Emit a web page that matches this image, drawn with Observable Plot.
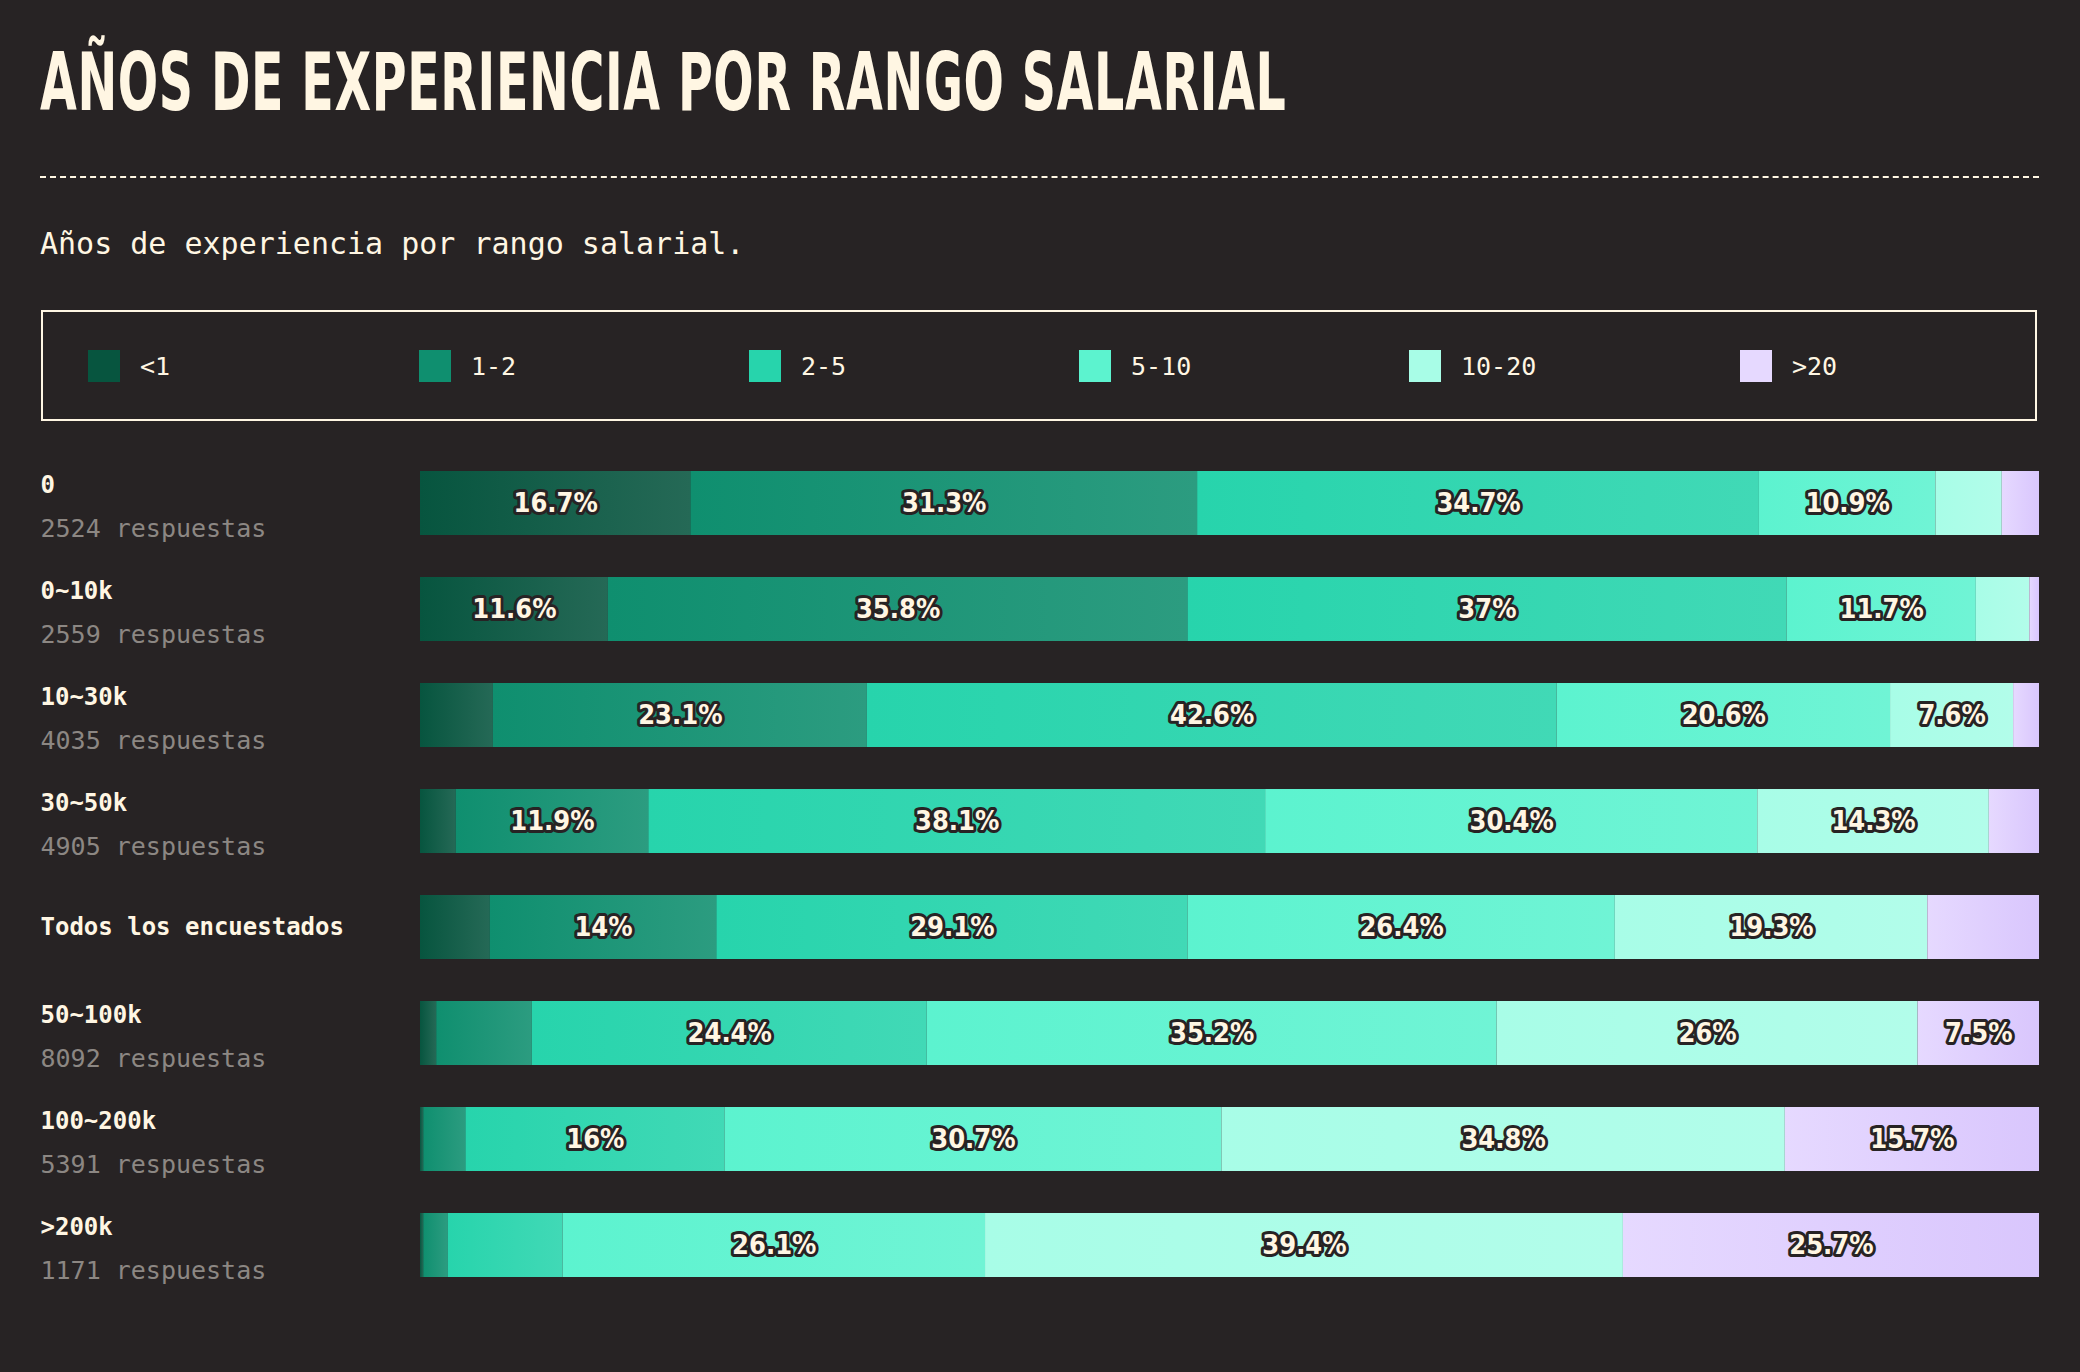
<!DOCTYPE html>
<html>
<head>
<meta charset="utf-8">
<script src="https://cdn.jsdelivr.net/npm/d3@7"></script>
<script src="https://cdn.jsdelivr.net/npm/@observablehq/plot@0.6"></script>
<style>
  body { margin: 0; background: #272324; color: #fff6e3; width: 2080px; height: 1372px; overflow: hidden; }
  #title { position: absolute; left: 40px; top: 36px; font-family: "DejaVu Sans Condensed", sans-serif; font-weight: bold; font-size: 80px; letter-spacing: 1px; transform: scaleX(0.66); transform-origin: left; white-space: nowrap; }
  #rule { position: absolute; left: 40px; top: 176px; width: 1999px; border-top: 2px dashed #fff6e3; }
  #sub { position: absolute; left: 40px; top: 226px; font-family: "DejaVu Sans Mono", monospace; font-size: 30px; }
  #legend { position: absolute; left: 41px; top: 310px; width: 1996px; height: 111px; border: 2px solid #fff6e3; box-sizing: border-box; }
  .item { position: absolute; top: 38px; font-family: "DejaVu Sans Mono", monospace; font-size: 25px; display: flex; align-items: center; }
  .sw { width: 32px; height: 32px; margin-right: 20px; }
  #chart { position: absolute; left: 0; top: 440px; }
</style>
</head>
<body>
<div id="title">AÑOS DE EXPERIENCIA POR RANGO SALARIAL</div>
<div id="rule"></div>
<div id="sub">Años de experiencia por rango salarial.</div>
<div id="legend"></div>
<div id="chart"></div>
<script>
const rows = ["0", "0~10k", "10~30k", "30~50k", "Todos los encuestados", "50~100k", "100~200k", ">200k"];
const responses = ["2524", "2559", "4035", "4905", "", "8092", "5391", "1171"];
const cats = ["<1", "1-2", "2-5", "5-10", "10-20", ">20"];
const colors = ["#07553f", "#0f8f6f", "#27d4ac", "#5cf3cf", "#a8fde7", "#e6d9ff"];
const values = [
  [16.7, 31.3, 34.7, 10.9, 4.1, 2.3],
  [11.6, 35.8, 37, 11.7, 3.3, 0.6],
  [4.5, 23.1, 42.6, 20.6, 7.6, 1.6],
  [2.2, 11.9, 38.1, 30.4, 14.3, 3.1],
  [4.3, 14, 29.1, 26.4, 19.3, 6.9],
  [1.0, 5.9, 24.4, 35.2, 26, 7.5],
  [0.2, 2.6, 16, 30.7, 34.8, 15.7],
  [0.2, 1.5, 7.1, 26.1, 39.4, 25.7]
];

const data = [];
rows.forEach((r, i) => cats.forEach((c, j) => data.push({row: r, cat: c, value: values[i][j]})));

// legend
const lx = [45, 376, 706, 1036, 1366, 1697];
const legend = d3.select("#legend");
cats.forEach((c, j) => {
  const it = legend.append("div").attr("class", "item").style("left", lx[j] + "px");
  it.append("div").attr("class", "sw").style("background", colors[j]);
  it.append("span").text(c);
});

const rowInfo = rows.map((r, i) => ({row: r, resp: responses[i]}));
const withResp = rowInfo.filter(d => d.resp);
const noResp = rowInfo.filter(d => !d.resp);

const labelStyle = {fill: "#fff6e3", fontFamily: "DejaVu Sans Mono", fontWeight: "bold", fontSize: 24,
  frameAnchor: "left", textAnchor: "start", dx: -380};

const chart = Plot.plot({
  width: 2080,
  height: 878,
  marginLeft: 420,
  marginRight: 41,
  marginTop: 10,
  marginBottom: 20,
  x: {domain: [0, 100], axis: null},
  y: {domain: rows, axis: null, paddingInner: 0.4, paddingOuter: 0.2},
  color: {domain: cats, range: colors},
  style: {background: "transparent", overflow: "visible"},
  marks: [
    Plot.barX(data, Plot.stackX({x: "value", y: "row", fill: "cat"})),
    Plot.text(data, Plot.stackX({
      x: "value", y: "row",
      text: d => d.value >= 7.5 ? `${d.value}%` : "",
      fill: "#fff6e3", stroke: "#272324", strokeWidth: 6, paintOrder: "stroke",
      fontFamily: "DejaVu Sans Condensed", fontWeight: "bold", fontSize: 27
    })),
    Plot.text(withResp, {y: "row", text: "row", dy: -18, ...labelStyle}),
    Plot.text(noResp, {y: "row", text: "row", ...labelStyle}),
    Plot.text(withResp, {
      y: "row", text: d => `${d.resp} respuestas`, frameAnchor: "left", textAnchor: "start", dx: -380, dy: 25,
      fill: "#8c8783", fontFamily: "DejaVu Sans Mono", fontSize: 25
    })
  ]
});

// soft left-to-right gradient on each segment
const svg = d3.select(chart);
const defs = svg.insert("defs", ":first-child");
colors.forEach((c, j) => {
  const g = defs.append("linearGradient").attr("id", "g" + j).attr("x1", 0).attr("x2", 1).attr("y1", 0).attr("y2", 0);
  const right = j === 5 ? "#d9c6fd" : d3.interpolateRgb(c, "#ffffff")(0.12);
  g.append("stop").attr("offset", 0).attr("stop-color", c);
  g.append("stop").attr("offset", 1).attr("stop-color", right);
});
svg.selectAll("rect").each(function() {
  const f = this.getAttribute("fill");
  const j = colors.indexOf(f);
  if (j >= 0) this.setAttribute("fill", `url(#g${j})`);
});

d3.select("#chart").append(() => chart);
</script>
</body>
</html>
